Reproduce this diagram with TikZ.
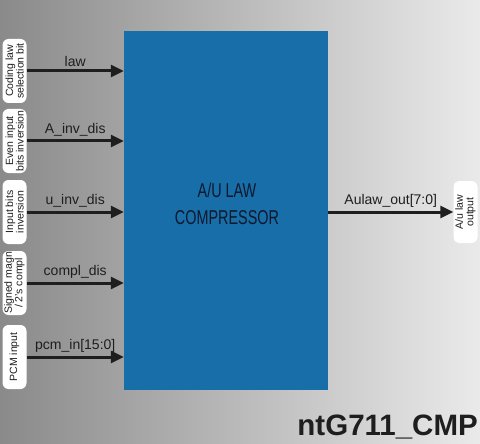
\documentclass[tikz,border=0pt]{standalone}
\usepackage{fontspec}
\setmainfont{Liberation Sans}
\newfontfamily\narrowfont[FakeStretch=0.72]{Liberation Sans}
\usetikzlibrary{arrows.meta}
\definecolor{blkblue}{RGB}{24,110,168}
\definecolor{sigcol}{RGB}{30,30,30}
\definecolor{bgdark}{RGB}{138,138,138}
\definecolor{bglight}{RGB}{234,234,234}
\definecolor{txtnavy}{RGB}{14,24,44}

\begin{document}
\begin{tikzpicture}[
            x=1pt, y=-1pt,
            sig/.style  ={-{Triangle[length=13pt,width=12pt]}, line width=3pt, draw=sigcol},
            tag/.style  ={fill=white, rounded corners=6pt, rotate=90, minimum width=64pt,
                          minimum height=24pt, inner sep=1pt, align=center, text=sigcol,
                          font=\fontsize{10.5}{10.5}\selectfont},
            lbl/.style  ={above, inner sep=3pt, text=sigcol, font=\fontsize{14}{16}\selectfont}
        ]
            %-----------------  Fondo degradado  --------------------
            \shade[left color=bgdark, right color=bglight] (0,0) rectangle (480,444);
            \useasboundingbox (0,0) rectangle (480,444);

            %-----------------  Bloque central  ---------------------
            \node[fill=blkblue, minimum width=204pt, minimum height=359pt, inner sep=0pt]
                (blk) at (226,210.5) {};
            \node[text=txtnavy, align=center, font=\narrowfont\fontsize{20}{27}\selectfont]
                (blkname) at (227,204) {A/U LAW\\COMPRESSOR};

            % Etiquetas de entrada (izquierda)
            \node[tag] (cod) at (14.5,71)  {Coding law\\selection bit};
            \node[tag] (evn) at (14.5,141) {Even input\\bits inversion};
            \node[tag] (inv) at (14.5,212) {Input bits\\inversion};
            \node[tag] (sgn) at (14.5,283) {Signed magn\\/ 2's compl};
            \node[tag] (pcm) at (14.5,357) {PCM input};

            % Etiqueta de salida (derecha)
            \node[tag, minimum width=62pt] (out) at (465.5,212) {A/u law\\output};

            %------------------  Señales de entrada  ---------------
            \draw[sig] (cod.south) -- (cod.south -| blk.west) node[lbl, midway] {law};
            \draw[sig] (evn.south) -- (evn.south -| blk.west) node[lbl, midway] {A\_inv\_dis};
            \draw[sig] (inv.south) -- (inv.south -| blk.west) node[lbl, midway] {u\_inv\_dis};
            \draw[sig] (sgn.south) -- (sgn.south -| blk.west) node[lbl, midway] {compl\_dis};
            \draw[sig] (pcm.south) -- (pcm.south -| blk.west) node[lbl, midway] {pcm\_in[15:0]};

            %------------------  Señal de salida  ------------------
            \draw[sig] (out.north -| blk.east) -- (out.north) node[lbl, midway] {Aulaw\_out[7:0]};

            %------------------  Nombre del módulo  ----------------
            \node[anchor=base east, inner sep=0pt, text=sigcol, font=\bfseries\fontsize{29.5}{31}\selectfont]
                (modname) at (478,435) {ntG711\_CMP};
        \end{tikzpicture}
\end{document}
